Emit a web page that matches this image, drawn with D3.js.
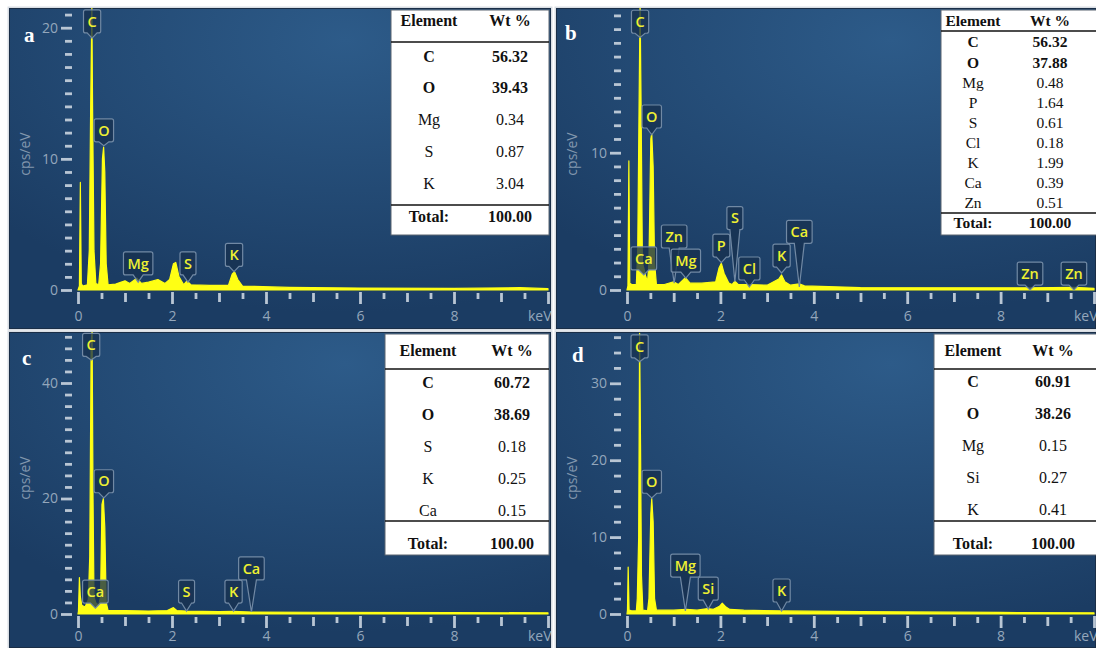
<!DOCTYPE html>
<html>
<head>
<meta charset="utf-8">
<script src="https://cdn.jsdelivr.net/npm/d3@7"></script>
<style>
  body { margin: 0; background: #fff; }
  svg { display: block; }
</style>
</head>
<body>
<svg id="chart" width="1096" height="648"></svg>
<script>
// EDS spectra as [keV, cps/eV]
const spectrumA = [[0,0],[0.03,0.3],[0.05,8.2],[0.07,0.5],[0.1,0.3],[0.2,0.4],[0.24,3],[0.27,14.2],[0.295,21.5],[0.31,14],[0.34,3],[0.38,0.5],[0.44,0.4],[0.48,2],[0.52,10],[0.545,10.9],[0.57,9],[0.6,2],[0.64,0.4],[0.8,0.45],[1.0,0.7],[1.1,0.5],[1.25,0.9],[1.35,0.5],[1.5,0.6],[1.7,0.8],[1.85,0.5],[1.95,0.8],[2.03,2.0],[2.08,2.1],[2.15,1.0],[2.25,0.4],[2.32,0.7],[2.4,0.4],[2.8,0.35],[3.2,0.35],[3.28,1.2],[3.33,1.4],[3.4,0.8],[3.5,0.3],[4.5,0.2],[6,0.15],[8,0.12],[9.4,0.18],[10,0.1]];
const spectrumB = [[0,0],[0.02,0.3],[0.04,9.4],[0.06,0.5],[0.1,0.4],[0.2,0.4],[0.23,3],[0.26,14],[0.28,21],[0.3,14],[0.33,2],[0.36,1.6],[0.4,1.0],[0.44,0.6],[0.47,2],[0.51,11],[0.53,11.4],[0.56,9],[0.59,2],[0.63,0.4],[0.8,0.4],[1.0,0.6],[1.1,0.4],[1.25,0.9],[1.35,0.5],[1.6,0.5],[1.9,0.6],[1.97,1.6],[2.02,1.95],[2.08,1.2],[2.18,0.5],[2.25,0.4],[2.31,0.65],[2.38,0.4],[2.62,0.4],[3.0,0.35],[3.25,0.8],[3.31,1.1],[3.38,0.6],[3.5,0.35],[3.69,0.45],[3.8,0.3],[5,0.18],[8.63,0.16],[9.57,0.2],[10,0.12]];
const spectrumC = [[0,0],[0.01,0.5],[0.03,6.3],[0.05,3],[0.08,1.5],[0.15,1.2],[0.22,2.5],[0.25,10],[0.28,47],[0.3,49],[0.32,20],[0.34,3],[0.38,1.9],[0.44,1.5],[0.48,3],[0.51,19],[0.54,20],[0.57,15],[0.6,2],[0.64,0.6],[1.0,0.6],[1.5,0.5],[1.9,0.6],[2.03,1.1],[2.1,0.6],[2.3,0.5],[3.0,0.4],[3.3,0.45],[3.7,0.35],[5,0.3],[8,0.25],[10,0.2]];
const spectrumD = [[0,0],[0.01,0.5],[0.025,6.1],[0.045,0.5],[0.1,0.4],[0.2,0.4],[0.22,2],[0.25,10],[0.27,36.5],[0.29,22],[0.31,5],[0.34,0.5],[0.44,0.4],[0.47,2],[0.51,13],[0.53,15],[0.56,12],[0.59,2],[0.63,0.5],[1.0,0.5],[1.27,0.6],[1.5,0.5],[1.73,0.7],[1.85,0.6],[1.98,1.0],[2.04,1.4],[2.12,0.9],[2.2,0.6],[2.5,0.5],[3.3,0.4],[5,0.3],[8,0.2],[10,0.15]];

// peak markers: element, energy (keV), tip height and box bottom (cps/eV)
const peaksA = [["C",0.30,19.2,19.6],["O",0.55,11.0,11.3],["Mg",1.28,0.6,1.15],["S",2.34,0.6,1.15],["K",3.32,1.4,1.8]];
const peaksB = [["C",0.28,18.4,18.7],["O",0.53,11.3,11.8],["Ca",0.36,1.1,1.46],["Zn",1.01,0.5,3.06],["Mg",1.26,0.87,1.3],["P",2.02,2.0,2.4],["S",2.31,0.6,4.4],["Cl",2.62,0.22,0.73],["K",3.31,1.24,1.67],["Ca",3.69,0.22,3.4],["Zn",8.63,0.0,0.36],["Zn",9.57,0.0,0.36]];
const peaksC = [["C",0.28,44,44.6],["O",0.55,20.1,21],["Ca",0.37,1.0,1.9],["S",2.31,0.5,1.9],["K",3.31,0.5,1.9],["Ca",3.69,0.35,5.9]];
const peaksD = [["C",0.27,32.8,33.3],["O",0.53,15.1,15.7],["Mg",1.25,0.4,4.8],["Si",1.74,0.65,1.8],["K",3.31,0.4,1.56]];

// composition tables
const elementsA = ["C","O","Mg","S","K"];
const wtA = ["56.32","39.43","0.34","0.87","3.04"];
const elementsB = ["C","O","Mg","P","S","Cl","K","Ca","Zn"];
const wtB = ["56.32","37.88","0.48","1.64","0.61","0.18","1.99","0.39","0.51"];
const elementsC = ["C","O","S","K","Ca"];
const wtC = ["60.72","38.69","0.18","0.25","0.15"];
const elementsD = ["C","O","Mg","Si","K"];
const wtD = ["60.91","38.26","0.15","0.27","0.41"];
const totalWt = "100.00";

const panels = [
  { letter: "a", rect: [9, 8, 542, 321], xr: [78, 548], yr: [290, 27.7], yRef: 20, yMax: 21, yStep: 1, yMajor: [0, 10, 20], pad: 7,
    spectrum: spectrumA, peaks: peaksA, elements: elementsA, wt: wtA, letterPos: [24, 42],
    table: { x: 391, y: 10, w: 158, h: 225, cEl: 429, cWt: 510, head: 20, line1: 42, row0: 56, step: 31.75, line2: 205, total: 216, fs: 16 } },
  { letter: "b", rect: [556, 8, 540, 321], xr: [627, 1094], yr: [290, 152.7], yRef: 10, yMax: 20, yStep: 1, yMajor: [0, 10], pad: 7,
    spectrum: spectrumB, peaks: peaksB, elements: elementsB, wt: wtB, letterPos: [565, 40],
    table: { x: 941, y: 10, w: 160, h: 225, cEl: 973, cWt: 1050, head: 21, line1: 31, row0: 42, step: 20.1, line2: 213, total: 223, fs: 15.5 } },
  { letter: "c", rect: [9, 332, 542, 316], xr: [78, 548], yr: [614, 383], yRef: 40, yMax: 48, yStep: 2, yMajor: [0, 20, 40], pad: 3,
    spectrum: spectrumC, peaks: peaksC, elements: elementsC, wt: wtC, letterPos: [22, 365],
    table: { x: 385, y: 334, w: 164, h: 221, cEl: 428, cWt: 512, head: 350, line1: 369, row0: 382, step: 32, line2: 521, total: 543, fs: 16 } },
  { letter: "d", rect: [556, 332, 540, 316], xr: [627, 1094], yr: [614, 383.3], yRef: 30, yMax: 36, yStep: 2, yMajor: [0, 10, 20, 30], pad: 3,
    spectrum: spectrumD, peaks: peaksD, elements: elementsD, wt: wtD, letterPos: [572, 362],
    table: { x: 934, y: 334, w: 170, h: 221, cEl: 973, cWt: 1053, head: 350, line1: 369, row0: 381, step: 32.2, line2: 521, total: 543, fs: 16 } }
];

const svg = d3.select("#chart");
svg.append("rect").attr("width", 1096).attr("height", 648).attr("fill", "#fff");

const defs = svg.append("defs");
const grad = defs.append("radialGradient").attr("id", "bg")
  .attr("cx", "62%").attr("cy", "10%").attr("r", "85%");
grad.append("stop").attr("offset", "0%").attr("stop-color", "#2d5b89");
grad.append("stop").attr("offset", "100%").attr("stop-color", "#1b3c63");

const tickColor = "#b9c6d4";
const labelColor = "#94a7bc";

panels.forEach((p, i) => {
  const [rx, ry, rw, rh] = p.rect;
  defs.append("clipPath").attr("id", "clip" + i)
    .append("rect").attr("x", rx).attr("y", ry).attr("width", rw).attr("height", rh);

  // frame
  svg.append("rect").attr("x", rx - 1.5).attr("y", ry - 1.5).attr("width", rw + 3).attr("height", rh + 3)
    .attr("fill", "#d9dee4");
  const g = svg.append("g").attr("clip-path", `url(#clip${i})`);
  g.append("rect").attr("x", rx).attr("y", ry).attr("width", rw).attr("height", rh)
    .attr("fill", "url(#bg)").attr("stroke", "#1a2e47").attr("stroke-width", 2);

  const x = d3.scaleLinear().domain([0, 10]).range(p.xr);
  const y = d3.scaleLinear().domain([0, p.yRef]).range(p.yr);
  const y0 = y(0);

  // y axis: minor + major dashes
  const axX = x(0) - 6;
  const minorY = d3.range(0, p.yMax + 0.001, p.yStep).filter(v => !p.yMajor.includes(v));
  const yMinor = g.append("g").attr("transform", `translate(${axX},0)`)
    .call(d3.axisLeft(y).tickValues(minorY).tickSize(7).tickFormat(""));
  const yMajor = g.append("g").attr("transform", `translate(${axX},0)`)
    .call(d3.axisLeft(y).tickValues(p.yMajor).tickSize(11).tickPadding(3).tickFormat(d3.format("d")));

  // x axis: half, odd and even ticks
  const xAx = y0 + 3;
  const halfX = d3.range(0.5, 10, 1);
  const oddX = d3.range(1, 10, 2);
  const evenX = d3.range(0, 10.1, 2);
  const xa1 = g.append("g").attr("transform", `translate(0,${xAx})`)
    .call(d3.axisBottom(x).tickValues(halfX).tickSize(6).tickFormat(""));
  const xa2 = g.append("g").attr("transform", `translate(0,${xAx})`)
    .call(d3.axisBottom(x).tickValues(oddX).tickSize(9).tickFormat(""));
  const xa3 = g.append("g").attr("transform", `translate(0,${xAx - 1})`)
    .call(d3.axisBottom(x).tickValues(evenX).tickSize(12).tickPadding(p.pad).tickFormat(d => d === 10 ? "keV" : d));
  xa3.selectAll(".tick text").filter(d => d === 10).attr("text-anchor", "end").attr("x", 3);

  [yMinor, yMajor, xa1, xa2, xa3].forEach(a => {
    a.select(".domain").remove();
    a.selectAll(".tick line").attr("stroke", tickColor).attr("stroke-width", 2.8);
    a.selectAll(".tick text").attr("fill", labelColor)
      .style("font-family", "'Open Sans', sans-serif").style("font-size", "14px");
  });

  // y label
  g.append("text")
    .attr("transform", `translate(${rx + 16},${(y0 + ry) / 2 + 5}) rotate(-90)`)
    .attr("text-anchor", "middle").attr("dy", "0.35em")
    .attr("fill", "#8297ae").style("font-family", "'Open Sans', sans-serif").style("font-size", "14px")
    .text("cps/eV");

  // spectrum
  const area = d3.area().x(d => x(d[0])).y0(y0).y1(d => y(d[1]));
  g.append("path").datum(p.spectrum).attr("d", area)
    .attr("fill", "#ffff14").attr("stroke", "#ffff14").attr("stroke-width", 1.2).attr("stroke-linejoin", "round");

  // peak markers
  p.peaks.forEach(([el, kev, tip, box]) => {
    const m = g.append("g");
    const path = m.append("path");
    const cx = x(kev);
    const bottom = y(box);
    const top = bottom - 23;
    const t = m.append("text").attr("x", cx).attr("y", (top + bottom) / 2).attr("dy", "0.36em")
      .attr("text-anchor", "middle").attr("fill", "#eef032")
      .style("font-family", "'Open Sans', sans-serif").style("font-size", "14.5px").style("font-weight", "600")
      .text(el);
    const w = t.node().getComputedTextLength() + 8;
    const x0 = cx - w / 2, x1 = cx + w / 2, r = 2;
    const tipY = Math.max(y(tip), bottom + 1);
    path.attr("d", `M${x0 + r},${top}H${x1 - r}Q${x1},${top} ${x1},${top + r}V${bottom - r}Q${x1},${bottom} ${x1 - r},${bottom}` +
      `H${cx + 5}L${cx},${tipY}L${cx - 5},${bottom}H${x0 + r}Q${x0},${bottom} ${x0},${bottom - r}V${top + r}Q${x0},${top} ${x0 + r},${top}Z`)
      .attr("fill", "#17314f").attr("fill-opacity", 0.78)
      .attr("stroke", "#7189a4").attr("stroke-width", 1.2);
  });

  // composition table
  const tb = p.table;
  const tg = g.append("g").style("font-family", "'Liberation Serif', 'Times New Roman', serif")
    .style("font-size", tb.fs + "px").attr("fill", "#111");
  tg.append("rect").attr("x", tb.x).attr("y", tb.y).attr("width", tb.w).attr("height", tb.h)
    .attr("fill", "#fff").attr("stroke", "#5a6470").attr("stroke-width", 1);
  [tb.line1, tb.line2].forEach(ly => tg.append("line").attr("x1", tb.x).attr("x2", tb.x + tb.w)
    .attr("y1", ly).attr("y2", ly).attr("stroke", "#111").attr("stroke-width", 1.6));
  tg.append("text").attr("x", tb.cEl).attr("y", tb.head).attr("dy", "0.35em").attr("text-anchor", "middle")
    .attr("font-weight", "bold").text("Element");
  tg.append("text").attr("x", tb.cWt).attr("y", tb.head).attr("dy", "0.35em").attr("text-anchor", "middle")
    .attr("font-weight", "bold").text("Wt %");
  p.elements.forEach((el, k) => {
    const ry2 = tb.row0 + k * tb.step;
    const bold = k < 2 ? "bold" : "normal";
    tg.append("text").attr("x", tb.cEl).attr("y", ry2).attr("dy", "0.35em").attr("text-anchor", "middle")
      .attr("font-weight", bold).text(el);
    tg.append("text").attr("x", tb.cWt).attr("y", ry2).attr("dy", "0.35em").attr("text-anchor", "middle")
      .attr("font-weight", bold).text(p.wt[k]);
  });
  tg.append("text").attr("x", tb.cEl).attr("y", tb.total).attr("dy", "0.35em").attr("text-anchor", "middle")
    .attr("font-weight", "bold").text("Total:");
  tg.append("text").attr("x", tb.cWt).attr("y", tb.total).attr("dy", "0.35em").attr("text-anchor", "middle")
    .attr("font-weight", "bold").text(totalWt);

  // panel letter
  g.append("text").attr("x", p.letterPos[0]).attr("y", p.letterPos[1])
    .attr("fill", "#fff").attr("font-weight", "bold")
    .style("font-family", "'Liberation Serif', 'Times New Roman', serif").style("font-size", "21px")
    .text(p.letter);
});
</script>
</body>
</html>
